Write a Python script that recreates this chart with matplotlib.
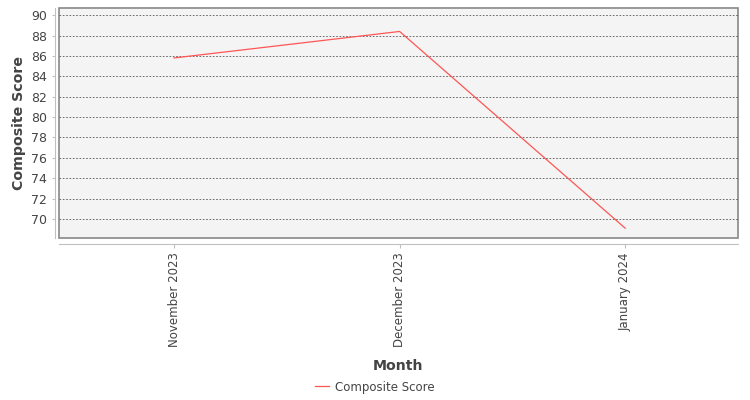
import matplotlib
matplotlib.use('Agg')
import matplotlib.pyplot as plt
from matplotlib.lines import Line2D

months = ['November 2023', 'December 2023', 'January 2024']
scores = [85.8, 88.4, 69.1]
y_ticks = [70, 72, 74, 76, 78, 80, 82, 84, 86, 88, 90]

plt.rcParams['font.family'] = ['DejaVu Sans']

fig = plt.figure(figsize=(7.5, 4), dpi=100)
ax = fig.add_axes([59 / 750, 1 - 238 / 400, 679 / 750, 230 / 400])

x = list(range(len(months)))
line_color = '#ff5555'
ax.plot(x, scores, color=line_color, linewidth=0.9)

ax.set_xlim(-0.51, len(months) - 1 + 0.5)
ax.set_ylim(68.14, 90.7)
ax.set_yticks(y_ticks)
ax.set_xticks(x)
ax.set_xticklabels(months)
ax.tick_params(axis='y', labelsize=9, colors='#c0c0c0', labelcolor='#444444',
               length=2, width=0.8)
ax.tick_params(axis='x', labelsize=8.5, labelrotation=90, length=3, width=0.8,
               colors='#c0c0c0', labelcolor='#444444')

ax.set_facecolor('#f4f4f4')
ax.grid(axis='y', color='#555555', linestyle=(0, (2, 2)), linewidth=0.6)
ax.set_axisbelow(True)

for side in ['top', 'right']:
    ax.spines[side].set_visible(False)
ax.spines['left'].set_position(('outward', 3))
ax.spines['bottom'].set_position(('outward', 4))
ax.spines['left'].set_color('#c0c0c0')
ax.spines['bottom'].set_color('#c0c0c0')

# plot-area border
ax.patch.set_edgecolor('#888888')
ax.patch.set_linewidth(1.2)

ax.set_ylabel('Composite Score', fontsize=10.2, fontweight='bold', color='#444444', labelpad=4)
ax.set_xlabel('Month', fontsize=10.2, fontweight='bold', color='#444444', labelpad=8)

handle = Line2D([], [], color=line_color, linewidth=0.9)
fig.legend([handle], ['Composite Score'], loc='center', bbox_to_anchor=(0.5, 1 - 387 / 400),
           frameon=False, fontsize=8.5, handlelength=1.2, handletextpad=0.5,
           labelcolor='#444444')

fig.savefig('out.png', dpi=100)
